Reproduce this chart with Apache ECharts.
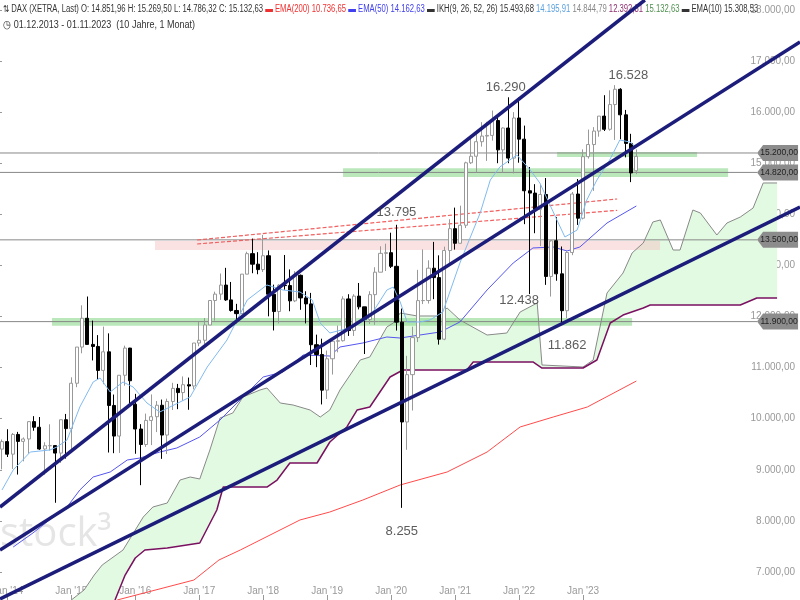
<!DOCTYPE html>
<html><head><meta charset="utf-8">
<script src="https://cdn.jsdelivr.net/npm/echarts@6/dist/echarts.min.js"></script>
<style>html,body{margin:0;padding:0;background:#fff}#c{width:800px;height:600px}</style>
</head><body><div id="c"></div>
<script>
// Monthly DAX candles, index 0 = Dec 2013
const open  = [9405,9552,9306,9692,9556,9603,9943,9833,9407,9470,9474,9327,9980,9806,10694,11402,11966,11454,11414,10945,11309,10259,9660,10850,11382,10283,9798,9495,9966,10039,10263,9680,10337,10593,10511,10665,10640,11481,11535,11834,12313,12438,12615,12325,12118,12056,12829,13230,13024,12918,13189,12436,12097,12612,12605,12306,12806,12364,12247,11448,11257,10559,11173,11516,11526,12344,11727,12399,12189,11939,12428,12867,13236,13249,12982,11890,9936,10862,11587,12311,12313,12945,12761,11556,13291,13719,13433,13786,15008,15136,15421,15531,15544,15835,15261,15689,15100,15885,15471,14461,14415,14098,14388,12784,13484,12835,12114,13253,14397,13924,15128,15365,15629,15922,15664,16148,16447,15947,15387,14852];
const high  = [9594,9794,9720,9742,9634,9951,10050,10033,9539,9891,9480,9980,10093,10810,11402,12219,12391,11920,11636,11802,11670,10473,10850,11430,11386,10486,9893,10100,10475,10346,10374,10393,10703,10681,10827,10805,11481,11893,11970,12313,12486,12841,12952,12676,12248,12830,13268,13525,13259,13597,13293,12623,12633,13204,12921,12887,12822,12494,12462,11645,11566,11334,11525,11823,12396,12436,12437,12656,12190,12494,12964,13374,13425,13640,13795,12155,11231,11801,12913,13313,13100,13460,13197,13367,13903,14131,14169,15030,15502,15569,15803,15810,16030,15950,15700,16290,16000,16285,15736,14925,14590,14575,14710,13465,13948,13370,13283,14437,14691,15270,15658,15706,15922,16331,16427,16528,16468,16043,15575,15270];
const low   = [9010,9250,9017,8907,9165,9318,9765,9390,8903,9377,8355,9134,9219,9382,10617,11280,11453,11140,10763,10674,9338,9325,9330,10646,10299,9314,8699,9448,9484,9738,9214,9308,10170,10187,10351,10175,10574,11418,11455,11836,11920,12325,12306,12095,11868,12045,12830,12847,12827,12871,12003,11727,11865,12523,12103,12282,12131,11865,11051,11009,10279,10386,10864,11299,11510,11620,11620,12139,11266,11853,11836,12867,12890,12949,11725,8255,9392,10160,11500,12243,12253,12339,11450,11536,13044,13310,13428,13731,14984,14816,15325,15045,15442,15000,14819,15000,14800,15010,13807,12438,13630,13380,12619,12390,12700,11862,11970,13200,13792,13900,15090,14458,15519,15630,15637,15456,15468,15114,14630,14786];
const close = [9552,9306,9692,9556,9603,9943,9833,9407,9470,9474,9327,9980,9806,10694,11402,11966,11454,11414,10945,11309,10259,9660,10850,11382,10743,9798,9495,9966,10039,10263,9680,10337,10593,10511,10665,10640,11481,11535,11834,12313,12438,12615,12325,12118,12056,12829,13230,13024,12918,13189,12436,12097,12612,12605,12306,12806,12364,12247,11448,11257,10559,11173,11516,11526,12344,11727,12399,12189,11939,12428,12867,13236,13249,12982,11890,9936,10862,11587,12311,12313,12945,12761,11556,13291,13719,13433,13786,15008,15136,15421,15531,15544,15835,15261,15689,15100,15885,15471,14461,14415,14098,14388,12784,13484,12835,12114,13253,14397,13924,15128,15365,15629,15922,15664,16148,16447,15947,15387,14810,15133];
// indicator lines: [monthIndex, value]
const ema10 = [[0,8605],[2.1,8996],[5.3,9348],[9,9388],[10.3,9446],[12.2,9583],[14.6,10229],[17.1,10718],[18.4,10797],[20.3,10523],[22.7,10718],[24.6,10620],[27.2,10307],[29.6,10131],[33.4,10327],[35.3,10425],[38.5,11012],[42.2,11540],[46,12323],[49.7,12617],[52.7,12519],[55.9,12480],[58.2,12323],[59.7,11873],[61.5,11677],[65.9,11795],[69,11990],[72.2,12519],[73.4,12577],[74.7,12284],[76,11893],[78.4,11893],[80.3,11932],[82.7,12088],[85.9,13047],[89.7,14026],[91.6,14671],[93.4,14926],[96.6,15161],[99.1,14867],[100.9,14613],[104.1,13889],[105.6,13556],[107.9,13693],[109.7,14280],[111.6,14671],[114,15063],[115.9,15454],[117.8,15415],[119,15309]];
const ema50 = [[2.1,7489],[5.8,7763],[9.6,8076],[12.2,8272],[14.6,8605],[17.1,8859],[20.3,8957],[23.5,9192],[25.9,9231],[29.6,9348],[32.8,9427],[37.1,9642],[40.9,9975],[45.2,10425],[49,10816],[52.7,10914],[56.5,11247],[61.5,11227],[63.4,11403],[67.7,11482],[72.2,11599],[74.7,11579],[78.4,11638],[82.2,11697],[85.9,11893],[91,12519],[95.9,13047],[99.6,13341],[103.4,13360],[106,13282],[108.4,13360],[113.5,13830],[119,14163]];
const ema200 = [[21.6,6452],[36,6843],[40.7,7235],[44.7,7430],[55.9,8018],[61.5,8174],[67.7,8409],[74.7,8703],[83.5,8957],[91,9348],[97.2,9838],[103.4,10033],[109.8,10229],[119,10737]];
const spanA = [[13,6452],[15.4,6648],[17.3,6941],[18.8,7137],[22.7,7430],[26.5,8076],[28.3,8272],[31,8350],[33.4,8800],[35.3,8859],[37.1,8820],[39,9388],[40.9,10014],[43.3,10112],[45.2,10425],[48.4,10562],[49.7,10601],[52.2,10307],[54.6,10268],[57.8,10170],[59.7,10033],[61.5,10170],[63.4,10562],[67.2,11149],[69,11208],[72.2,11795],[73.4,11873],[74.7,12069],[77.9,12010],[81.6,12010],[83.5,12166],[85.9,11932],[91,11638],[94.7,11677],[97.2,12088],[100.4,12264],[101.3,11051],[109,11012],[110.9,11149],[113.5,12460],[116.5,12851],[118.2,13243],[120.3,13439],[122.1,13850],[123.5,13889],[125.9,13301],[127.2,13301],[129.6,14084],[131,14026],[134.1,13595],[136,13830],[138.5,13947],[140.9,14123],[142.8,14613],[145.4,14613]];
const spanB = [[21.2,6452],[23.1,6941],[25,7274],[26.8,7430],[31,7470],[37.1,7568],[40.3,8213],[41.5,8663],[49.7,8663],[51.6,8800],[54,9133],[59.1,9133],[61.5,9544],[64.7,9838],[66.6,10170],[69,10229],[72.8,10816],[75.2,10953],[87.2,10953],[88.4,11110],[99.6,11110],[101.3,10992],[109,10992],[111.6,11149],[114.1,11873],[116.5,12029],[120.3,12166],[121.6,12225],[138.5,12225],[141.6,12362],[145.4,12362]];
const trend1 = [[-0.375,8272],[120.6,18194]];
const trend2 = [[-0.375,7430],[149.7,17372]];
const trend3 = [[-0.375,6472],[149.7,14143]];
const redUpper = [[36.6,13497],[115.4,14300]];
const redLower = [[36.6,13419],[115.4,14077]];
const levels = [15200,14820,13500,11900];
const greenBands = [[52,632,11820,11970],[343,728,14730,14900],[557,697,15120,15220]];
const pinkBand = [155,660,13300,13480];
const peaks = [[94.5,16290,'16.290',-10],[117.5,16528,'16.528',-10],[74,13795,'13.795',-12],[97,12438,'12.438',6],[106,11862,'11.862',22],[75,8255,'8.255',24]];
const yTicks = [7000,8000,9000,10000,11000,12000,13000,14000,15000,16000,17000,18000];
const xTicks = [1,13,25,37,49,61,73,85,97,109];
const xTickLabels = ["Jan '14","Jan '15","Jan '16","Jan '17","Jan '18","Jan '19","Jan '20","Jan '21","Jan '22","Jan '23"];

const px2i = x => (x-2)/5.33;
const de = v => v.toLocaleString('de-DE',{minimumFractionDigits:2,maximumFractionDigits:2});
const candles = close.map((c,i)=>[i,open[i],c,low[i],high[i]]);
const chart = echarts.init(document.getElementById('c'));
const line = (data,color,w,extra) => Object.assign({type:'line',data,symbol:'none',lineStyle:{color,width:w},silent:true,animation:false,z:3},extra||{});
const font = "'Liberation Sans',Arial,sans-serif";
const fs = 10;

chart.setOption({
  animation:false,
  grid:{left:0,right:0,top:0,bottom:0,outerBoundsMode:'none',containLabel:false},
  xAxis:{type:'value',min:-0.375,max:149.7,axisLine:{show:false},splitLine:{show:false},
    axisTick:{show:true,customValues:xTicks,inside:true,length:5,lineStyle:{color:'#999'}},
    axisLabel:{inside:true,customValues:xTicks,color:'#999',fontSize:10,fontFamily:font,margin:4,
      formatter:v=>xTickLabels[xTicks.indexOf(v)]||''}},
  yAxis:{type:'value',position:'right',min:6452,max:18194,axisLine:{show:false},splitLine:{show:false},
    axisTick:{show:true,inside:true,length:3,customValues:yTicks,lineStyle:{color:'#999'}},
    axisLabel:{inside:true,customValues:yTicks,color:'#999',fontSize:10,fontFamily:font,margin:5,formatter:v=>de(v)}},
  graphic:[
    {type:'text',left:0,top:515,z:0,style:{text:'stock³',fontSize:40,fill:'rgba(180,180,180,0.35)',fontFamily:'Open Sans'}},
    {type:'group',x:3,y:4,scaleX:0.77,z:100,children:[
      {type:'text',x:0,y:0,style:{fontSize:fs,fontFamily:font,overflow:'none',width:2000,
      rich:{k:{fill:'#333',fontSize:fs,fontFamily:font},r:{fill:'#f03030',fontSize:fs,fontFamily:font},b:{fill:'#4040ee',fontSize:fs,fontFamily:font},lb:{fill:'#5aa0e0',fontSize:fs,fontFamily:font},g:{fill:'#888',fontSize:fs,fontFamily:font},p:{fill:'#903070',fontSize:fs,fontFamily:font},gr:{fill:'#509050',fontSize:fs,fontFamily:font}},
      text:'{k|⇅ DAX (XETRA, Last) O: 14.851,96 H: 15.269,50 L: 14.786,32 C: 15.132,63} {r|▬ EMA(200) 10.736,65} {b|▬ EMA(50) 14.162,63} {k|▬ IKH(9, 26, 52, 26) 15.493,68} {lb|14.195,91} {g|14.844,79} {p|12.392,31} {gr|15.132,63} {k|▬ EMA(10) 15.308,53}'}}]},
    {type:'group',x:3,y:19,scaleX:0.82,z:100,children:[
      {type:'text',x:0,y:0,style:{text:'◷ 01.12.2013 - 01.11.2023  (10 Jahre, 1 Monat)',fill:'#333',fontSize:11,fontFamily:font}}]}
  ],
  series:[
    {type:'custom',silent:true,z:1,data:[0],renderItem:(p,api)=>{
      const pts = spanA.map(d=>api.coord(d)).concat(spanB.slice().reverse().map(d=>api.coord(d)));
      return {type:'polygon',shape:{points:pts},style:{fill:'#e2fae2'}};
    }},
    {type:'custom',silent:true,z:2,data:[0],renderItem:(p,api)=>{
      const ch=[];
      greenBands.forEach(b=>{const a=api.coord([px2i(b[0]),b[3]]),c=api.coord([px2i(b[1]),b[2]]);
        ch.push({type:'rect',shape:{x:a[0],y:a[1],width:c[0]-a[0],height:c[1]-a[1]},style:{fill:'rgba(120,210,120,0.5)'}});});
      const a=api.coord([px2i(pinkBand[0]),pinkBand[3]]),c=api.coord([px2i(pinkBand[1]),pinkBand[2]]);
      ch.push({type:'rect',shape:{x:a[0],y:a[1],width:c[0]-a[0],height:c[1]-a[1]},style:{fill:'rgba(245,190,190,0.45)'}});
      levels.forEach(l=>{const s=api.coord([-0.375,l]),e=api.coord([px2i(757),l]);
        ch.push({type:'line',shape:{x1:s[0],y1:s[1],x2:e[0],y2:e[1]},style:{stroke:'#888',lineWidth:1}});
        ch.push({type:'polygon',z2:10,shape:{points:[[e[0],e[1]],[e[0]+6,e[1]-8],[e[0]+41,e[1]-8],[e[0]+41,e[1]+8],[e[0]+6,e[1]+8]]},style:{fill:'#8c8c8c'}});
        ch.push({type:'text',z2:11,x:e[0]+22,y:e[1],style:{text:de(l),fill:'#222',fontSize:8.5,fontFamily:font,align:'center',verticalAlign:'middle'}});
      });
      return {type:'group',children:ch};
    }},
    line(spanA,'#888',1),
    line(spanB,'#7a1060',1.5),
    line(ema200,'#ff4a4a',1),
    line(ema50,'#5555f0',1),
    line(redUpper,'#f06060',1.2,{lineStyle:{color:'#f06060',width:1.2,type:[4,2]}}),
    line(redLower,'#f06060',1.2,{lineStyle:{color:'#f06060',width:1.2,type:[4,2]}}),
    {type:'candlestick',data:candles,barWidth:3.6,z:4,silent:true,
      itemStyle:{color:'#fff',color0:'#000',borderColor:'#999',borderColor0:'#000',borderWidth:1}},
    line(ema10,'#80baf0',1,{z:5}),
    line(trend1,'#1c1c7a',3.5,{z:6}),
    line(trend2,'#1c1c7a',3.5,{z:6}),
    line(trend3,'#1c1c7a',3.5,{z:6}),
    {type:'scatter',data:peaks.map(p=>[p[0],p[1]]),symbolSize:0,z:7,silent:true,
      label:{show:true,position:'inside',fontSize:13,color:'#333',fontFamily:'Liberation Sans',
        formatter:o=>peaks[o.dataIndex][2]},
      labelLayout:o=>({dy:peaks[o.dataIndex][3]})}
  ]
});
</script></body></html>
